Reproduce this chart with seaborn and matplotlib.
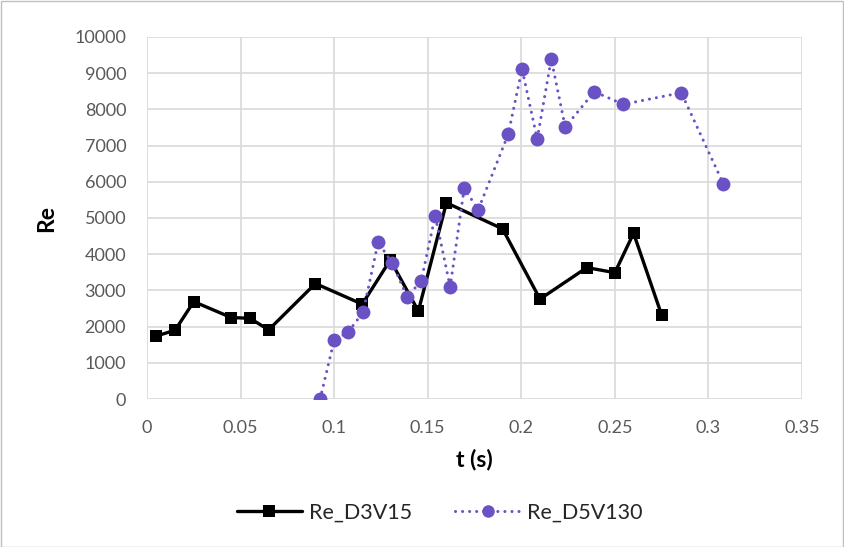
import numpy as np
import pandas as pd
import matplotlib
matplotlib.use("Agg")
import matplotlib.pyplot as plt
import seaborn as sns
from matplotlib.patches import Rectangle
from matplotlib.lines import Line2D

# ---- data ----
t_d3v15 = [0.005, 0.015, 0.025, 0.045, 0.055, 0.065, 0.090, 0.115, 0.130, 0.145,
           0.160, 0.190, 0.210, 0.235, 0.250, 0.260, 0.275]
re_d3v15 = [1740, 1900, 2690, 2250, 2230, 1910, 3190, 2620, 3840, 2430,
            5420, 4700, 2760, 3630, 3490, 4580, 2320]

t_d5v130 = [0.0925, 0.100, 0.1075, 0.1155, 0.1235, 0.131, 0.139, 0.1465, 0.154,
            0.162, 0.1695, 0.177, 0.193, 0.2004, 0.2085, 0.216, 0.2235, 0.239,
            0.2545, 0.2855, 0.308]
re_d5v130 = [0, 1620, 1850, 2400, 4330, 3760, 2820, 3260, 5060,
             3100, 5820, 5230, 7310, 9120, 7180, 9390, 7510, 8490,
             8140, 8460, 5940]

series_names = ["Re_D3V15", "Re_D5V130"]
x_ticks = [0, 0.05, 0.1, 0.15, 0.2, 0.25, 0.3, 0.35]
x_tick_labels = ["0", "0.05", "0.1", "0.15", "0.2", "0.25", "0.3", "0.35"]
y_ticks = list(range(0, 10001, 1000))

sns.set_style("white")
plt.rcParams['font.family'] = ['Lato', 'DejaVu Sans']

W, H = 844, 547
fig = plt.figure(figsize=(W / 100, H / 100), dpi=100)
ax = fig.add_axes([147 / W, (H - 399) / H, (802 - 147) / W, (399 - 37) / H])

black = "#000000"
purple = "#6A51C4"
dots = (0, (0.01, 2.3))

df1 = pd.DataFrame({"t": t_d3v15, "Re": re_d3v15})
df2 = pd.DataFrame({"t": t_d5v130, "Re": re_d5v130})

sns.lineplot(data=df1, x="t", y="Re", ax=ax, color=black, linewidth=2.4,
             marker="s", markersize=9, markeredgewidth=0, sort=False, zorder=3)
sns.lineplot(data=df2, x="t", y="Re", ax=ax, color=purple, linewidth=2.2,
             linestyle=dots, dash_capstyle="round",
             marker="o", markersize=10, markeredgewidth=0, sort=False, zorder=4)

ax.set_xlim(0, 0.35)
ax.set_ylim(0, 10000)
ax.set_xticks(x_ticks)
ax.set_xticklabels(x_tick_labels)
ax.set_yticks(y_ticks)
ax.set_yticklabels([str(v) for v in y_ticks])
ax.grid(True, color="#d9d9d9", linewidth=1.2)
ax.set_axisbelow(True)
for s in ax.spines.values():
    s.set_visible(False)
ax.tick_params(axis="both", length=0, labelsize=13, labelcolor="#595959")
ax.tick_params(axis="x", pad=15)
ax.tick_params(axis="y", pad=15)

ax.set_xlabel("t (s)", fontsize=16.5, fontweight="bold", color="#000000", labelpad=9)
ax.set_ylabel("Re", fontsize=16.5, fontweight="bold", color="#000000", labelpad=12)

handles = [
    Line2D([], [], color=black, linewidth=2.4, marker="s", markersize=8, markeredgewidth=0),
    Line2D([], [], color=purple, linewidth=2.2, linestyle=dots,
           dash_capstyle="round", marker="o", markersize=9, markeredgewidth=0),
]
fig.legend(handles, series_names, loc="center", bbox_to_anchor=(440 / W, 1 - 513 / H),
           ncol=2, frameon=False, fontsize=15.5, handlelength=3.0, columnspacing=2.0,
           handletextpad=0.35)

fig.patches.append(Rectangle((0.5 / W, 0.5 / H), 1 - 1.5 / W, 1 - 1.5 / H,
                             transform=fig.transFigure, fill=False,
                             edgecolor="#bfbfbf", linewidth=1.0))

fig.savefig("out.png", dpi=100)
